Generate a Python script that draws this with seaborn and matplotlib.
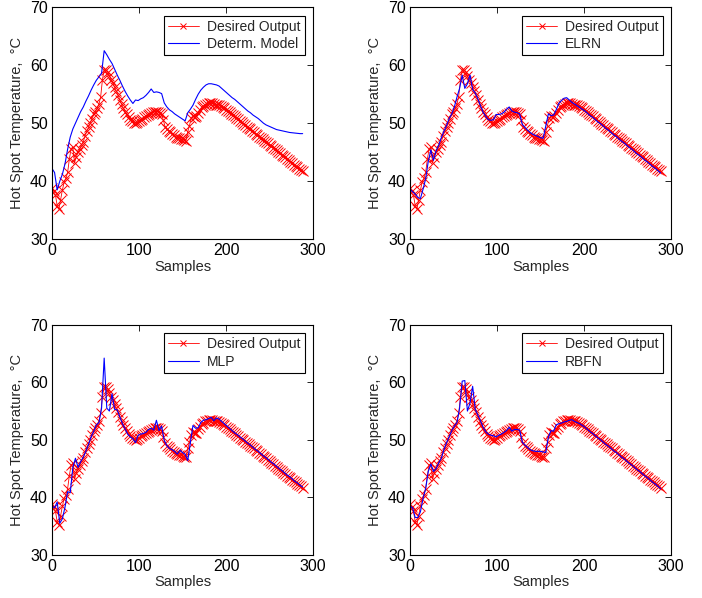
import numpy as np
import matplotlib
matplotlib.use("Agg")
import matplotlib.pyplot as plt
import seaborn as sns

# sample indices
desired_samples = np.arange(0, 289, 2)   # every 2nd sample
model_samples = np.arange(0, 289, 3)     # every 3rd sample

desired_output = [
    38.8, 38.3, 37.6, 35.8, 35.2, 36.8, 38.5, 39.8, 40.5, 41.5,
    43.8, 45.6, 45.9, 43.2, 44.2, 45.0, 45.6, 46.3, 46.8, 47.8,
    48.6, 49.3, 50.0, 50.8, 51.5, 52.0, 52.6, 53.3, 54.6, 57.5,
    59.2, 59.1, 58.9, 58.2, 57.5, 56.9, 56.2, 55.5, 54.8, 54.0,
    53.3, 52.6, 52.0, 51.5, 51.0, 50.6, 50.3, 50.1, 50.0, 50.2,
    50.4, 50.6, 50.8, 51.0, 51.2, 51.4, 51.6, 51.7, 51.9, 52.0,
    52.0, 52.0, 51.8, 51.5, 50.5, 49.4, 49.0, 48.7, 48.4, 48.1,
    47.9, 47.7, 47.5, 47.4, 47.3, 47.2, 47.1, 47.0, 48.5, 49.6,
    50.9, 51.3, 51.1, 51.2, 51.8, 52.3, 52.8, 53.0, 53.2, 53.3,
    53.4, 53.4, 53.4, 53.3, 53.2, 53.2, 53.1, 52.9, 52.8, 52.6,
    52.3, 52.1, 51.9, 51.6, 51.4, 51.2, 50.9, 50.7, 50.4, 50.2,
    49.9, 49.7, 49.4, 49.2, 49.0, 48.7, 48.5, 48.2, 48.0, 47.7,
    47.5, 47.2, 47.0, 46.8, 46.5, 46.3, 46.0, 45.8, 45.5, 45.3,
    45.0, 44.8, 44.6, 44.3, 44.1, 43.8, 43.6, 43.3, 43.1, 42.8,
    42.6, 42.4, 42.1, 41.9, 41.7,
]

determ_model = [
    42.2, 41.5, 38.5, 40.0, 41.2, 43.0, 45.5, 47.6, 49.0, 50.0,
    51.0, 52.0, 52.8, 53.8, 54.7, 55.7, 56.6, 57.4, 58.0, 58.6,
    62.5, 61.8, 61.0, 60.3, 59.3, 58.3, 57.4, 56.4, 55.5, 54.7,
    54.0, 53.4, 54.0, 53.9, 54.2, 54.4, 54.8, 55.3, 55.9, 55.3,
    55.4, 55.3, 55.1, 53.5, 52.8, 52.3, 52.0, 51.6, 51.3, 51.0,
    50.7, 50.4, 51.8, 52.4, 53.1, 54.1, 55.0, 55.7, 56.2, 56.6,
    56.8, 56.8, 56.7, 56.6, 56.4, 56.0, 55.6, 55.2, 54.8, 54.4,
    54.1, 53.7, 53.3, 52.9, 52.5, 52.1, 51.8, 51.4, 51.1, 50.8,
    50.4, 50.0, 49.7, 49.5, 49.3, 49.1, 48.9, 48.8, 48.7, 48.6,
    48.5, 48.4, 48.35, 48.3, 48.25, 48.2, 48.2,
]

elrn = [
    38.6, 38.2, 37.8, 37.2, 37.0, 38.6, 40.4, 43.4, 45.4, 43.6,
    45.2, 46.2, 47.5, 48.6, 49.6, 50.8, 51.6, 52.8, 54.5, 56.0,
    58.3, 56.0, 56.8, 58.3, 55.8, 55.2, 54.2, 53.0, 51.9, 51.2,
    50.6, 50.5, 50.6, 51.5, 51.5, 51.6, 51.9, 52.4, 52.8, 52.1,
    51.9, 51.8, 51.6, 49.8, 49.3, 48.8, 48.4, 48.1, 47.9, 47.7,
    47.5, 47.4, 49.5, 51.6, 51.3, 51.4, 52.3, 53.4, 53.9, 54.3,
    54.4, 54.0, 53.6, 53.3, 53.0, 52.7, 52.4, 52.1, 51.7, 51.3,
    51.0, 50.6, 50.2, 49.9, 49.5, 49.1, 48.8, 48.4, 48.0, 47.7,
    47.3, 46.9, 46.6, 46.2, 45.8, 45.5, 45.1, 44.7, 44.4, 44.0,
    43.6, 43.3, 42.9, 42.5, 42.2, 41.8, 41.4,
]

mlp = [
    38.5, 38.2, 39.2, 35.5, 36.3, 38.3, 41.0, 40.8, 45.2, 46.8,
    45.2, 46.2, 47.0, 48.0, 49.2, 50.5, 51.5, 52.6, 53.0, 55.5,
    64.2, 55.5, 55.0, 58.0, 55.3, 55.2, 54.0, 52.8, 51.9, 51.0,
    50.5, 50.2, 49.5, 50.8, 51.0, 51.1, 51.3, 51.8, 52.0, 51.7,
    53.4, 51.6, 52.4, 49.9, 49.0, 48.5, 48.3, 48.0, 47.5, 48.2,
    47.8, 47.5, 46.4, 49.5, 52.5, 52.0, 52.1, 53.0, 53.4, 53.5,
    53.7, 53.9, 53.3, 53.8, 53.6, 53.2, 52.8, 52.4, 52.0, 51.6,
    51.2, 50.9, 50.5, 50.2, 49.8, 49.4, 49.1, 48.7, 48.3, 48.0,
    47.6, 47.2, 46.9, 46.5, 46.1, 45.8, 45.4, 45.0, 44.7, 44.3,
    43.9, 43.6, 43.2, 42.8, 42.5, 42.1, 41.8,
]

rbfn = [
    38.5, 38.2, 36.5, 36.5, 37.5, 39.8, 41.5, 44.5, 45.8, 44.5,
    45.0, 46.0, 46.8, 48.3, 49.5, 50.5, 51.6, 52.4, 53.0, 55.5,
    60.2, 60.3, 55.0, 56.4, 59.3, 55.3, 54.3, 53.3, 52.2, 51.4,
    51.0, 50.8, 50.7, 50.5, 50.8, 51.0, 51.3, 51.6, 52.2, 51.5,
    51.8, 51.8, 51.7, 49.6, 49.1, 48.7, 48.3, 48.1, 48.0, 48.0,
    48.0, 47.9, 47.8, 50.5, 51.6, 51.5, 52.6, 52.8, 52.9, 53.1,
    53.2, 53.4, 53.5, 53.2, 53.0, 52.8, 52.5, 52.2, 51.8, 51.4,
    51.1, 50.7, 50.3, 50.0, 49.6, 49.2, 48.9, 48.5, 48.1, 47.8,
    47.4, 47.0, 46.7, 46.3, 45.9, 45.6, 45.2, 44.8, 44.5, 44.1,
    43.7, 43.4, 43.0, 42.6, 42.3, 41.9, 41.5,
]

model_names = ["Determ. Model", "ELRN", "MLP", "RBFN"]
model_values = [determ_model, elrn, mlp, rbfn]
x_ticks = [0, 100, 200, 300]
y_ticks = [30, 40, 50, 60, 70]

sns.set_style("white")
plt.rcParams["font.family"] = ["Liberation Sans", "DejaVu Sans"]
plt.rcParams["font.size"] = 10

fig = plt.figure(figsize=(7.02, 5.98), dpi=100)
positions = [
    [0.074, 0.600, 0.372, 0.388],
    [0.584, 0.600, 0.372, 0.388],
    [0.074, 0.072, 0.372, 0.385],
    [0.584, 0.072, 0.372, 0.385],
]

for pos, name, vals in zip(positions, model_names, model_values):
    ax = fig.add_axes(pos)
    sns.lineplot(x=desired_samples, y=desired_output, ax=ax, color="red",
                 marker="x", markersize=6.5, markeredgewidth=0.7,
                 markeredgecolor="red", linewidth=0.6,
                 label="Desired Output")
    sns.lineplot(x=model_samples, y=vals, ax=ax, color="blue", linewidth=0.8,
                 label=name)
    ax.set_xlim(0, 300)
    ax.set_ylim(30, 70)
    ax.set_xticks(x_ticks)
    ax.set_yticks(y_ticks)
    ax.set_xlabel("Samples", fontsize=10.5, labelpad=1)
    ax.set_ylabel("Hot Spot Temperature,  \u00b0C", fontsize=10.5, labelpad=4)
    ax.tick_params(direction="in", top=True, right=True, length=4,
                   width=0.6, labelsize=11.5, pad=3, colors="black")
    for sp in ax.spines.values():
        sp.set_visible(True)
        sp.set_color("black")
        sp.set_linewidth(0.8)
    leg = ax.legend(loc="upper right", fontsize=10, frameon=True,
                    fancybox=False, framealpha=1, edgecolor="black",
                    borderaxespad=0.6, handlelength=2.2, borderpad=0.3,
                    labelspacing=0.25, handletextpad=0.6, markerscale=0.7)
    leg.get_frame().set_linewidth(0.8)

fig.savefig("out.png", dpi=100)
